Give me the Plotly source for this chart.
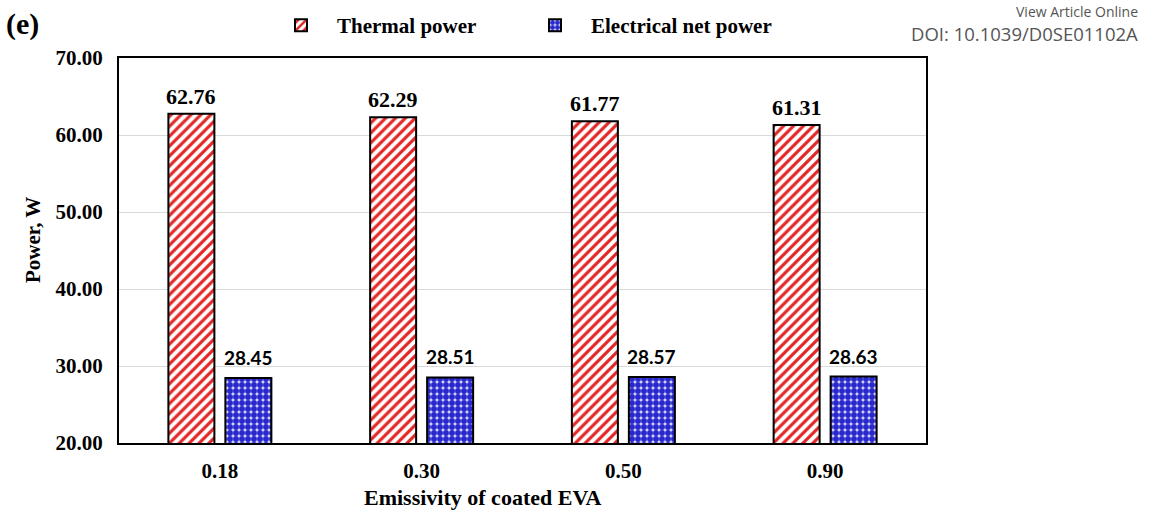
import plotly.graph_objects as go

categories = ["0.18", "0.30", "0.50", "0.90"]
thermal_power = [62.76, 62.29, 61.77, 61.31]
electrical_net_power = [28.45, 28.51, 28.57, 28.63]
y_ticks = [20, 30, 40, 50, 60, 70]

SERIF = "Liberation Serif, Times New Roman, serif"
SANS = "Lato, Carlito, Calibri, sans-serif"

fig = go.Figure()
fig.add_trace(go.Bar(
    x=categories, y=thermal_power, name="<b>Thermal power</b>",
    marker=dict(color="white", line=dict(color="black", width=2),
                pattern=dict(shape="/", fgcolor="#e32626", bgcolor="white",
                             size=7, solidity=0.45, fillmode="replace")),
    hoverinfo="skip",
))
fig.add_trace(go.Bar(
    x=categories, y=electrical_net_power, name="<b>Electrical net power</b>",
    marker=dict(color="#3030d0", line=dict(color="black", width=2),
                pattern=dict(shape=".", fgcolor="#2828cc", bgcolor="#dcdcff",
                             size=6, solidity=0.75, fillmode="replace")),
    hoverinfo="skip",
))

annotations = []
for i, v in enumerate(thermal_power):
    annotations.append(dict(x=i, y=v, xref="x", yref="y", text=f"<b>{v:.2f}</b>",
                            showarrow=False, yanchor="bottom", xshift=-28.5, yshift=3,
                            font=dict(family=SERIF, size=22, color="black")))
for i, v in enumerate(electrical_net_power):
    annotations.append(dict(x=i, y=v, xref="x", yref="y", text=f"<b>{v:.2f}</b>",
                            showarrow=False, yanchor="bottom", xshift=28.5, yshift=7,
                            font=dict(family=SANS, size=19, color="black")))

annotations += [
    dict(text="<b>(e)</b>", xref="paper", yref="paper", x=(4 - 119) / 807, y=1 + (58 - 24) / 385,
         xanchor="left", yanchor="middle", showarrow=False,
         font=dict(family=SERIF, size=30, color="black")),
    dict(text="<b>Emissivity of coated EVA</b>", xref="paper", yref="paper",
         x=(482 - 119) / 807, y=-(497 - 443) / 385, xanchor="center", yanchor="middle",
         showarrow=False, font=dict(family=SERIF, size=22, color="black")),
    dict(text="<b>Power, W</b>", xref="paper", yref="paper", x=(33 - 119) / 807,
         y=(443 - 240) / 385, xanchor="center", yanchor="middle", textangle=-90,
         showarrow=False, font=dict(family=SERIF, size=21, color="black")),
    dict(text="View Article Online", xref="paper", yref="paper", x=(1140 - 119) / 807,
         y=1 + (58 - 12) / 385, xanchor="right", yanchor="middle", showarrow=False,
         font=dict(family="Open Sans, sans-serif", size=14, color="#555555")),
    dict(text="DOI: 10.1039/D0SE01102A", xref="paper", yref="paper", x=(1140 - 119) / 807,
         y=1 + (58 - 33) / 385, xanchor="right", yanchor="middle", showarrow=False,
         font=dict(family="Open Sans, sans-serif", size=18.5, color="#555555")),
]

fig.update_layout(
    width=1153, height=511,
    margin=dict(l=119, r=227, t=58, b=68, autoexpand=False),
    paper_bgcolor="white", plot_bgcolor="white",
    barmode="group", bargap=0.435, bargroupgap=0.193,
    showlegend=True,
    legend=dict(orientation="h", xref="container", yref="container",
                x=265 / 1153, y=1 - 5 / 511, xanchor="left", yanchor="top",
                itemwidth=62, entrywidth=177,
                font=dict(family=SERIF, size=21, color="black"),
                bgcolor="rgba(0,0,0,0)"),
    annotations=annotations,
)
fig.update_xaxes(type="category", showline=True, linecolor="black", linewidth=2, mirror=True,
                 ticks="", showgrid=False, ticklabelstandoff=8,
                 tickfont=dict(family=SERIF, size=21, color="black"),
                 tickprefix="<b>", ticksuffix="</b>")
fig.update_yaxes(range=[20, 70], tickvals=y_ticks, ticktext=[f"<b>{t:.2f}</b>" for t in y_ticks],
                 showline=True, linecolor="black", linewidth=2, mirror=True,
                 showgrid=True, gridcolor="#d9d9d9", gridwidth=1, ticks="",
                 ticklabelstandoff=10,
                 tickfont=dict(family=SERIF, size=21, color="black"), zeroline=False)

fig.write_html("out.html")
